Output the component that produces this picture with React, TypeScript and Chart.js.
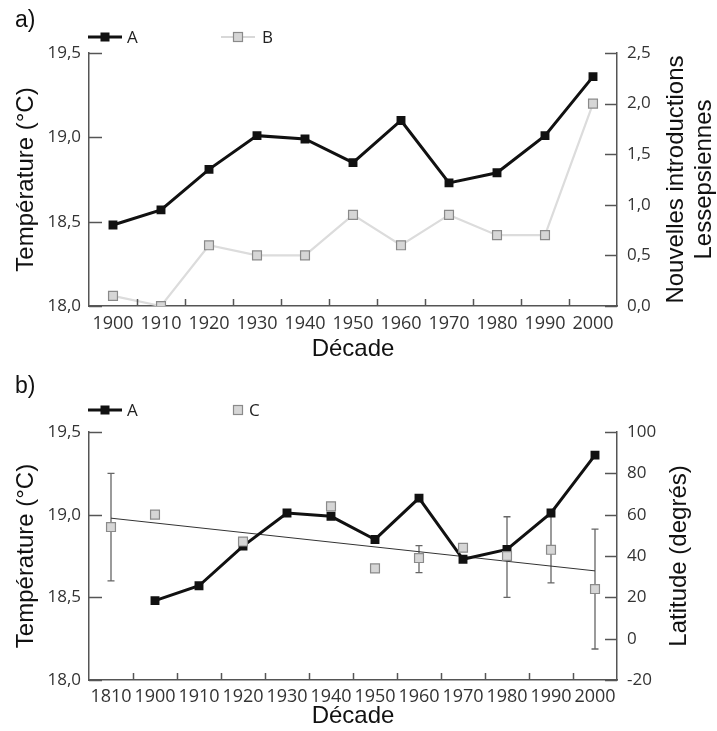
import React, { useEffect, useRef } from 'react';
import { Chart, registerables } from 'chart.js';

Chart.register(...registerables);

// ---------- data ----------
const decadesA = ['1900', '1910', '1920', '1930', '1940', '1950', '1960', '1970', '1980', '1990', '2000'];
const decadesB = ['1810', '1900', '1910', '1920', '1930', '1940', '1950', '1960', '1970', '1980', '1990', '2000'];

const temperatureA = [18.48, 18.57, 18.81, 19.01, 18.99, 18.85, 19.1, 18.73, 18.79, 19.01, 19.36];
const introductions = [0.1, 0.0, 0.6, 0.5, 0.5, 0.9, 0.6, 0.9, 0.7, 0.7, 2.0];

const temperatureB = [null, 18.48, 18.57, 18.81, 19.01, 18.99, 18.85, 19.1, 18.73, 18.79, 19.01, 19.36];
const latitude = [54, 60, null, 47, null, 64, 34, 39, 44, 40, 43, 24];
const latitudeLow = [28, null, null, 45.5, null, null, 32.5, 32, null, 20, 27, -5];
const latitudeHigh = [80, null, null, 48, null, null, 35, 45, null, 59, 60.5, 53];
const latitudeTrend = [58.3, null, null, null, null, null, null, null, null, null, null, 32.8];

const tempTickLabels = ['18,0', '18,5', '19,0', '19,5'];
const introTickLabels = ['0,0', '0,5', '1,0', '1,5', '2,0', '2,5'];
const latTickLabels = ['-20', '0', '20', '40', '60', '80', '100'];

// ---------- styles ----------
const AXIS = '#555555';
const TICK_TEXT = '#333333';
const Y_TICK_FONT = { family: "'Open Sans', sans-serif", size: 17 };
const X_TICK_FONT = { family: "'Open Sans', sans-serif", size: 18 };
const TITLE_FONT = { family: "'Liberation Sans', Arial, sans-serif", size: 24 };
const GRAY_FILL = '#d6d6d6';
const GRAY_EDGE = '#8a8a8a';

function drawSquare(ctx: CanvasRenderingContext2D, x: number, y: number, s: number, fill: string, stroke?: string) {
  ctx.fillStyle = fill;
  ctx.fillRect(x - s / 2, y - s / 2, s, s);
  if (stroke) {
    ctx.strokeStyle = stroke;
    ctx.lineWidth = 1.2;
    ctx.strokeRect(x - s / 2, y - s / 2, s, s);
  }
}

type Decor = {
  panel: string;
  legend: { label: string; line?: string; fill: string; stroke?: string; x0: number; x1: number; tx: number }[];
  legendY: number;
  rightTitle: string[];
  rightTitleX: number;
  errors?: { low: (number | null)[]; high: (number | null)[] };
};

function makeDecor(d: Decor) {
  return {
    id: 'decor',
    beforeDatasetsDraw(chart: any) {
      if (!d.errors) return;
      const ctx = chart.ctx as CanvasRenderingContext2D;
      const xs = chart.scales.x;
      const ys = chart.scales.y2;
      ctx.save();
      ctx.strokeStyle = '#666666';
      ctx.lineWidth = 1.3;
      d.errors.low.forEach((lo, i) => {
        const hi = d.errors!.high[i];
        if (lo == null || hi == null) return;
        const x = xs.getPixelForValue(i);
        const yl = ys.getPixelForValue(lo);
        const yh = ys.getPixelForValue(hi);
        ctx.beginPath();
        ctx.moveTo(x, yl);
        ctx.lineTo(x, yh);
        ctx.moveTo(x - 3.5, yl);
        ctx.lineTo(x + 3.5, yl);
        ctx.moveTo(x - 3.5, yh);
        ctx.lineTo(x + 3.5, yh);
        ctx.stroke();
      });
      ctx.restore();
    },
    afterDraw(chart: any) {
      const ctx = chart.ctx as CanvasRenderingContext2D;
      const area = chart.chartArea;
      ctx.save();
      // inward ticks
      ctx.strokeStyle = AXIS;
      ctx.lineWidth = 1.5;
      const yl = chart.scales.y;
      const yr = chart.scales.y2;
      yl.ticks.forEach((t: any) => {
        const py = Math.round(yl.getPixelForValue(t.value)) + 0.5;
        ctx.beginPath();
        ctx.moveTo(area.left, py);
        ctx.lineTo(area.left + 13, py);
        ctx.stroke();
      });
      yr.ticks.forEach((t: any) => {
        const py = Math.round(yr.getPixelForValue(t.value)) + 0.5;
        ctx.beginPath();
        ctx.moveTo(area.right, py);
        ctx.lineTo(area.right - 12, py);
        ctx.stroke();
      });
      const xs = chart.scales.x;
      const n = xs.getLabels().length;
      for (let i = 1; i < n; i++) {
        const px = Math.round((xs.getPixelForValue(i - 1) + xs.getPixelForValue(i)) / 2) + 0.5;
        ctx.beginPath();
        ctx.moveTo(px, area.bottom);
        ctx.lineTo(px, area.bottom - 7);
        ctx.stroke();
      }
      // panel letter
      ctx.fillStyle = '#111';
      ctx.font = "23px 'Liberation Sans', Arial, sans-serif";
      ctx.textBaseline = 'middle';
      ctx.textAlign = 'left';
      ctx.fillText(d.panel, 15, 21);
      // legend
      ctx.font = "17px 'Open Sans', sans-serif";
      d.legend.forEach((it) => {
        const cx = (it.x0 + it.x1) / 2;
        if (it.line) {
          ctx.strokeStyle = it.line;
          ctx.lineWidth = it.stroke ? 2 : 2.8;
          ctx.beginPath();
          ctx.moveTo(it.x0, d.legendY);
          ctx.lineTo(it.x1, d.legendY);
          ctx.stroke();
        }
        drawSquare(ctx, cx, d.legendY, 9, it.fill, it.stroke);
        ctx.fillStyle = '#222';
        ctx.fillText(it.label, it.tx, d.legendY + 1);
      });
      // right title (reads bottom to top)
      ctx.font = "24px 'Liberation Sans', Arial, sans-serif";
      ctx.fillStyle = '#111';
      ctx.textAlign = 'center';
      const cy = (area.top + area.bottom) / 2;
      d.rightTitle.forEach((line, i) => {
        ctx.save();
        ctx.translate(d.rightTitleX + i * 28, cy);
        ctx.rotate(-Math.PI / 2);
        ctx.fillText(line, 0, 0);
        ctx.restore();
      });
      ctx.restore();
    },
  };
}

function baseScales(opts: {
  xHeight: number;
  xTitlePad: number;
  xTickPad: number;
  y2: { min: number; max: number; step: number; labels: string[] };
}) {
  return {
    x: {
      type: 'category' as const,
      offset: true,
      grid: { display: false, drawTicks: false },
      border: { display: true, color: AXIS, width: 1.5 },
      ticks: { font: X_TICK_FONT, color: TICK_TEXT, padding: opts.xTickPad, autoSkip: false, maxRotation: 0 },
      title: { display: true, text: 'Décade', font: TITLE_FONT, color: '#111', padding: { top: 0, bottom: opts.xTitlePad } },
      afterFit: (s: any) => {
        s.height = opts.xHeight;
      },
    },
    y: {
      type: 'linear' as const,
      position: 'left' as const,
      min: 18,
      max: 19.5,
      grid: { display: false, drawTicks: false },
      border: { display: true, color: AXIS, width: 1.5 },
      ticks: {
        stepSize: 0.5,
        font: Y_TICK_FONT,
        color: TICK_TEXT,
        padding: 8,
        callback: (_v: any, i: number) => tempTickLabels[i],
      },
      title: { display: true, text: 'Température (°C)', font: TITLE_FONT, color: '#111', padding: { top: 12, bottom: 0 } },
      afterFit: (s: any) => {
        s.width = 89;
      },
    },
    y2: {
      type: 'linear' as const,
      position: 'right' as const,
      min: opts.y2.min,
      max: opts.y2.max,
      grid: { display: false, drawTicks: false },
      border: { display: true, color: AXIS, width: 1.5 },
      ticks: {
        stepSize: opts.y2.step,
        font: Y_TICK_FONT,
        color: TICK_TEXT,
        padding: 10,
        callback: (_v: any, i: number) => opts.y2.labels[i],
      },
      afterFit: (s: any) => {
        s.width = 100;
      },
    },
  };
}

function ChartA() {
  const ref = useRef<HTMLCanvasElement>(null);
  useEffect(() => {
    const chart = new Chart(ref.current!, {
      type: 'line',
      data: {
        labels: decadesA,
        datasets: [
          {
            label: 'A',
            data: temperatureA,
            yAxisID: 'y',
            borderColor: '#111',
            borderWidth: 3,
            pointStyle: 'rect',
            pointRadius: 6.3,
            pointBackgroundColor: '#111',
            pointBorderColor: '#111',
            pointBorderWidth: 0,
            tension: 0,
          },
          {
            label: 'B',
            data: introductions,
            yAxisID: 'y2',
            borderColor: '#dcdcdc',
            borderWidth: 2.2,
            pointStyle: 'rect',
            pointRadius: 6.3,
            pointBackgroundColor: GRAY_FILL,
            pointBorderColor: GRAY_EDGE,
            pointBorderWidth: 1.2,
            tension: 0,
          },
        ],
      },
      options: {
        animation: false,
        responsive: false,
        layout: { padding: { top: 53, left: 0, right: 0, bottom: 0 } },
        plugins: { legend: { display: false }, tooltip: { enabled: false } },
        scales: baseScales({
          xHeight: 60,
          xTitlePad: 2,
          xTickPad: 7,
          y2: { min: 0, max: 2.5, step: 0.5, labels: introTickLabels },
        }) as any,
      },
      plugins: [
        makeDecor({
          panel: 'a)',
          legendY: 37,
          legend: [
            { label: 'A', line: '#111', fill: '#111', x0: 88, x1: 122, tx: 127 },
            { label: 'B', line: '#d8d8d8', fill: GRAY_FILL, stroke: GRAY_EDGE, x0: 221, x1: 255, tx: 262 },
          ],
          rightTitle: ['Nouvelles introductions', 'Lessepsiennes'],
          rightTitleX: 676,
        }),
      ],
    });
    return () => chart.destroy();
  }, []);
  return <canvas ref={ref} width={717} height={366} style={{ display: 'block' }} />;
}

function ChartB() {
  const ref = useRef<HTMLCanvasElement>(null);
  useEffect(() => {
    const chart = new Chart(ref.current!, {
      type: 'line',
      data: {
        labels: decadesB,
        datasets: [
          {
            label: 'C',
            data: latitude,
            yAxisID: 'y2',
            showLine: false,
            pointStyle: 'rect',
            pointRadius: 6.3,
            pointBackgroundColor: GRAY_FILL,
            pointBorderColor: GRAY_EDGE,
            pointBorderWidth: 1.2,
          },
          {
            label: 'A',
            data: temperatureB,
            yAxisID: 'y',
            borderColor: '#111',
            borderWidth: 3,
            pointStyle: 'rect',
            pointRadius: 6.3,
            pointBackgroundColor: '#111',
            pointBorderColor: '#111',
            pointBorderWidth: 0,
            tension: 0,
          },
          {
            label: 'trend',
            data: latitudeTrend,
            yAxisID: 'y2',
            spanGaps: true,
            borderColor: '#333',
            borderWidth: 1,
            pointRadius: 0,
            tension: 0,
          },
        ],
      },
      options: {
        animation: false,
        responsive: false,
        layout: { padding: { top: 66, left: 0, right: 0, bottom: 0 } },
        plugins: { legend: { display: false }, tooltip: { enabled: false } },
        scales: baseScales({
          xHeight: 51,
          xTitlePad: 0,
          xTickPad: 6,
          y2: { min: -20, max: 100, step: 20, labels: latTickLabels },
        }) as any,
      },
      plugins: [
        makeDecor({
          panel: 'b)',
          legendY: 44,
          legend: [
            { label: 'A', line: '#111', fill: '#111', x0: 88, x1: 122, tx: 127 },
            { label: 'C', fill: GRAY_FILL, stroke: GRAY_EDGE, x0: 233, x1: 243, tx: 249 },
          ],
          rightTitle: ['Latitude (degrés)'],
          rightTitleX: 679,
          errors: { low: latitudeLow, high: latitudeHigh },
        }),
      ],
    });
    return () => chart.destroy();
  }, []);
  return <canvas ref={ref} width={717} height={365} style={{ display: 'block' }} />;
}

export default function App() {
  return (
    <div style={{ position: 'absolute', left: 0, top: 0, width: 717, height: 731, background: '#fff' }}>
      <ChartA />
      <ChartB />
    </div>
  );
}
